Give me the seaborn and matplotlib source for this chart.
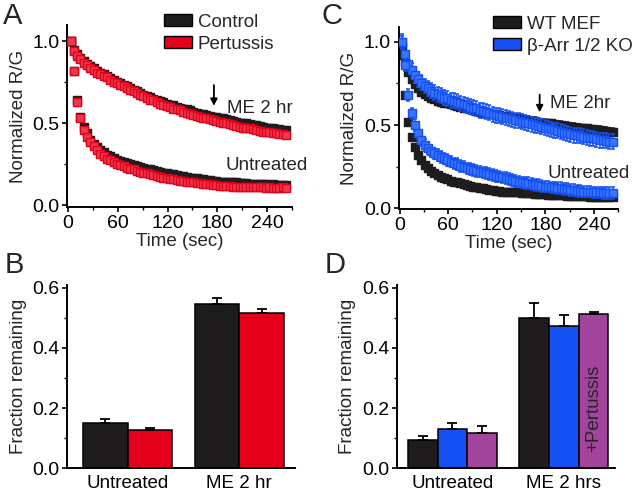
import numpy as np
import pandas as pd
import matplotlib
matplotlib.use("Agg")
import matplotlib.pyplot as plt
from matplotlib.patches import Patch
from matplotlib.ticker import MultipleLocator, FormatStrFormatter
import seaborn as sns

# sample times (sec), one point every 4 s
time_s = np.arange(3, 264, 4)

# Panel A: ME 2 hr curves
a_me_control = [1.00, 0.95, 0.92, 0.90, 0.88, 0.865, 0.85, 0.835, 0.82, 0.81,
                0.80, 0.79, 0.775, 0.765, 0.755, 0.745, 0.735, 0.725, 0.715, 0.705,
                0.695, 0.685, 0.675, 0.67, 0.66, 0.65, 0.645, 0.635, 0.63, 0.62,
                0.615, 0.61, 0.60, 0.595, 0.59, 0.585, 0.58, 0.57, 0.565, 0.56,
                0.555, 0.55, 0.545, 0.54, 0.54, 0.535, 0.53, 0.525, 0.52, 0.515,
                0.51, 0.505, 0.50, 0.50, 0.495, 0.49, 0.49, 0.485, 0.48, 0.475,
                0.475, 0.47, 0.465, 0.465, 0.46, 0.46]
a_me_pertussis = [1.00, 0.94, 0.91, 0.89, 0.87, 0.855, 0.84, 0.825, 0.81, 0.80,
                  0.79, 0.78, 0.765, 0.755, 0.745, 0.735, 0.725, 0.715, 0.705, 0.695,
                  0.685, 0.675, 0.665, 0.655, 0.645, 0.64, 0.63, 0.62, 0.615, 0.605,
                  0.60, 0.59, 0.585, 0.58, 0.57, 0.565, 0.56, 0.55, 0.545, 0.54,
                  0.535, 0.53, 0.525, 0.52, 0.515, 0.51, 0.505, 0.50, 0.495, 0.49,
                  0.485, 0.48, 0.475, 0.47, 0.47, 0.465, 0.46, 0.455, 0.45, 0.45,
                  0.445, 0.44, 0.44, 0.435, 0.435, 0.43]
# Panel A: untreated curves
a_un_control = [1.00, 0.82, 0.64, 0.54, 0.48, 0.44, 0.40, 0.375, 0.355, 0.34,
                0.325, 0.31, 0.30, 0.29, 0.28, 0.27, 0.265, 0.26, 0.25, 0.245,
                0.24, 0.235, 0.23, 0.225, 0.22, 0.215, 0.21, 0.205, 0.20, 0.195,
                0.19, 0.19, 0.185, 0.18, 0.18, 0.175, 0.17, 0.17, 0.165, 0.16,
                0.16, 0.155, 0.155, 0.15, 0.15, 0.145, 0.145, 0.145, 0.14, 0.14,
                0.14, 0.135, 0.135, 0.135, 0.13, 0.13, 0.13, 0.13, 0.13, 0.13,
                0.125, 0.13, 0.125, 0.125, 0.125, 0.125]
a_un_pertussis = [1.00, 0.82, 0.63, 0.53, 0.46, 0.42, 0.385, 0.36, 0.335, 0.315,
                  0.30, 0.285, 0.275, 0.265, 0.255, 0.245, 0.24, 0.23, 0.225, 0.22,
                  0.21, 0.205, 0.20, 0.195, 0.19, 0.185, 0.18, 0.175, 0.17, 0.165,
                  0.16, 0.16, 0.155, 0.15, 0.15, 0.145, 0.14, 0.14, 0.135, 0.135,
                  0.13, 0.13, 0.13, 0.125, 0.125, 0.12, 0.12, 0.12, 0.12, 0.115,
                  0.115, 0.115, 0.115, 0.11, 0.11, 0.11, 0.11, 0.11, 0.11, 0.105,
                  0.11, 0.105, 0.105, 0.105, 0.11, 0.105]

# Panel C: ME 2hr curves
c_me_wt = [0.97, 0.88, 0.82, 0.775, 0.745, 0.72, 0.70, 0.685, 0.675, 0.665,
           0.655, 0.645, 0.64, 0.635, 0.63, 0.625, 0.62, 0.615, 0.61, 0.605,
           0.60, 0.595, 0.59, 0.585, 0.58, 0.575, 0.575, 0.57, 0.565, 0.56,
           0.56, 0.555, 0.55, 0.55, 0.545, 0.54, 0.54, 0.535, 0.53, 0.53,
           0.525, 0.525, 0.52, 0.515, 0.515, 0.51, 0.51, 0.505, 0.50, 0.50,
           0.495, 0.495, 0.49, 0.49, 0.485, 0.485, 0.48, 0.48, 0.475, 0.475,
           0.47, 0.47, 0.465, 0.465, 0.46, 0.46]
c_me_ko = [1.00, 0.93, 0.87, 0.83, 0.80, 0.775, 0.755, 0.735, 0.72, 0.705,
           0.695, 0.685, 0.675, 0.665, 0.66, 0.65, 0.645, 0.64, 0.63, 0.625,
           0.62, 0.61, 0.605, 0.60, 0.59, 0.585, 0.58, 0.575, 0.565, 0.56,
           0.555, 0.55, 0.545, 0.54, 0.535, 0.53, 0.525, 0.52, 0.515, 0.51,
           0.505, 0.50, 0.495, 0.49, 0.485, 0.48, 0.475, 0.47, 0.465, 0.46,
           0.455, 0.45, 0.445, 0.44, 0.44, 0.435, 0.43, 0.425, 0.42, 0.42,
           0.415, 0.41, 0.41, 0.405, 0.40, 0.40]
# Panel C: untreated curves
c_un_wt = [0.92, 0.68, 0.52, 0.43, 0.37, 0.32, 0.29, 0.26, 0.24, 0.225,
           0.21, 0.20, 0.19, 0.18, 0.175, 0.165, 0.16, 0.155, 0.15, 0.145,
           0.14, 0.135, 0.13, 0.125, 0.12, 0.12, 0.115, 0.11, 0.11, 0.105,
           0.105, 0.10, 0.10, 0.10, 0.095, 0.095, 0.095, 0.09, 0.09, 0.09,
           0.09, 0.085, 0.085, 0.085, 0.085, 0.08, 0.08, 0.08, 0.08, 0.08,
           0.08, 0.075, 0.075, 0.075, 0.075, 0.075, 0.075, 0.075, 0.07, 0.07,
           0.07, 0.07, 0.07, 0.07, 0.07, 0.07]
c_un_ko = [1.00, 0.86, 0.68, 0.57, 0.50, 0.45, 0.41, 0.38, 0.36, 0.345,
           0.33, 0.32, 0.31, 0.30, 0.29, 0.28, 0.27, 0.265, 0.255, 0.25,
           0.24, 0.235, 0.23, 0.225, 0.22, 0.215, 0.21, 0.205, 0.20, 0.195,
           0.19, 0.185, 0.18, 0.175, 0.17, 0.165, 0.16, 0.155, 0.15, 0.15,
           0.145, 0.14, 0.14, 0.135, 0.13, 0.13, 0.125, 0.125, 0.12, 0.12,
           0.115, 0.115, 0.11, 0.11, 0.105, 0.105, 0.10, 0.10, 0.10, 0.095,
           0.095, 0.095, 0.09, 0.09, 0.09, 0.09]

# typical SEM of each curve
sem_a_control = 0.015
sem_a_pertussis = 0.013
sem_c_wt_me = 0.022
sem_c_wt_un = 0.01
sem_c_ko_me = 0.045
sem_c_ko_un = 0.035

# Panel B bars
b_conditions = ["Untreated", "ME 2 hr"]
b_groups = ["Control", "Pertussis"]
b_values = [[0.151, 0.127], [0.546, 0.518]]
b_errors = [[0.012, 0.005], [0.022, 0.011]]

# Panel D bars
d_conditions = ["Untreated", "ME 2 hrs"]
d_groups = ["WT MEF", "KO", "+Pertussis"]
d_values = [[0.093, 0.130, 0.116], [0.501, 0.473, 0.512]]
d_errors = [[0.014, 0.021, 0.025], [0.050, 0.037, 0.009]]

BLACK = "#1e1c1d"
RED = "#e2001a"
BLUE = "#1450f2"
PURPLE = "#a3449c"

sns.set_theme(style="ticks")
plt.rcParams["font.family"] = ["Liberation Sans", "DejaVu Sans"]
plt.rcParams["axes.linewidth"] = 1.4
plt.rcParams["xtick.major.width"] = 1.2
plt.rcParams["ytick.major.width"] = 1.2
plt.rcParams["xtick.minor.width"] = 1.0
plt.rcParams["ytick.minor.width"] = 1.0
plt.rcParams["xtick.major.size"] = 3.5
plt.rcParams["ytick.major.size"] = 3.5
plt.rcParams["xtick.minor.size"] = 2.5
plt.rcParams["ytick.minor.size"] = 2.5
plt.rcParams["axes.edgecolor"] = "black"
plt.rcParams["xtick.color"] = "black"
plt.rcParams["ytick.color"] = "black"

TICK_FS = 14
LAB_FS = 13.5

fig = plt.figure(figsize=(6.4, 4.99), dpi=100)
axA = fig.add_axes([0.105, 0.585, 0.351, 0.365])
axC = fig.add_axes([0.623, 0.581, 0.343, 0.365])
axB = fig.add_axes([0.105, 0.062, 0.356, 0.367])
axD = fig.add_axes([0.620, 0.062, 0.341, 0.367])


def draw_curve(ax, y, err, color, face, z):
    ax.errorbar(time_s, y, yerr=err, fmt="none", ecolor=color, elinewidth=1.1,
                capsize=1.6, capthick=1.1, zorder=z)
    sns.scatterplot(x=time_s, y=y, marker="s", s=26, color=face, edgecolor=color,
                    linewidth=1.0, ax=ax, zorder=z + 0.5, legend=False)


def style_time_axis(ax):
    sns.despine(ax=ax)
    ax.set_xlim(-1, 270)
    ax.xaxis.set_major_locator(MultipleLocator(60))
    ax.xaxis.set_minor_locator(MultipleLocator(30))
    ax.yaxis.set_major_locator(MultipleLocator(0.5))
    ax.yaxis.set_minor_locator(MultipleLocator(0.25))
    ax.yaxis.set_major_formatter(FormatStrFormatter("%.1f"))
    ax.tick_params(labelsize=TICK_FS, pad=2)
    ax.set_xlabel("Time (sec)", fontsize=LAB_FS, labelpad=1)
    ax.set_ylabel("Normalized R/G", fontsize=LAB_FS, labelpad=4)


# Panel A
draw_curve(axA, a_me_control, sem_a_control, BLACK, BLACK, 2)
draw_curve(axA, a_un_control, sem_a_control, BLACK, BLACK, 2)
draw_curve(axA, a_me_pertussis, sem_a_pertussis, RED, "#ea3a4c", 3)
draw_curve(axA, a_un_pertussis, sem_a_pertussis, RED, "#ea3a4c", 3)
style_time_axis(axA)
axA.set_ylim(-0.01, 1.1)
axA.annotate("", xy=(176, 0.59), xytext=(176, 0.75),
             arrowprops=dict(arrowstyle="-|>", color="black", lw=1.3, mutation_scale=10))
axA.text(192, 0.59, "ME 2 hr", fontsize=LAB_FS, va="center", ha="left")
axA.text(190, 0.245, "Untreated", fontsize=LAB_FS, va="center", ha="left", clip_on=False)
axA.legend(handles=[Patch(facecolor=BLACK, edgecolor="black", label="Control"),
                    Patch(facecolor=RED, edgecolor="black", label="Pertussis")],
           loc="upper left", bbox_to_anchor=(0.43, 1.06), frameon=False,
           fontsize=LAB_FS, handlelength=1.5, handleheight=0.6, handletextpad=0.3,
           borderpad=0, borderaxespad=0, labelspacing=0.25)

# Panel C
draw_curve(axC, c_me_wt, sem_c_wt_me, BLACK, BLACK, 2)
draw_curve(axC, c_un_wt, sem_c_wt_un, BLACK, BLACK, 2)
draw_curve(axC, c_me_ko, sem_c_ko_me, BLUE, "#3a74ff", 3)
draw_curve(axC, c_un_ko, sem_c_ko_un, BLUE, "#3a74ff", 3)
style_time_axis(axC)
axC.set_ylim(-0.005, 1.09)
axC.annotate("", xy=(173, 0.56), xytext=(173, 0.70),
             arrowprops=dict(arrowstyle="-|>", color="black", lw=1.3, mutation_scale=10))
axC.text(186, 0.63, "ME 2hr", fontsize=LAB_FS, va="center", ha="left")
axC.text(183, 0.21, "Untreated", fontsize=LAB_FS, va="center", ha="left", clip_on=False)
axC.legend(handles=[Patch(facecolor=BLACK, edgecolor="black", label="WT MEF"),
                    Patch(facecolor=BLUE, edgecolor="black", label="β-Arr 1/2 KO")],
           loc="upper left", bbox_to_anchor=(0.43, 1.06), frameon=False,
           fontsize=LAB_FS, handlelength=1.5, handleheight=0.6, handletextpad=0.3,
           borderpad=0, borderaxespad=0, labelspacing=0.25)


def bar_panel(ax, conditions, groups, values, errors, colors):
    rows = []
    for ci, cond in enumerate(conditions):
        for gi, grp in enumerate(groups):
            rows.append({"cond": cond, "group": grp, "frac": values[ci][gi],
                         "err": errors[ci][gi]})
    df = pd.DataFrame(rows)
    sns.barplot(data=df, x="cond", y="frac", hue="group", palette=colors,
                edgecolor="black", linewidth=1.1, errorbar=None, legend=False,
                width=0.8, saturation=1, ax=ax)
    bars = sorted(ax.patches, key=lambda p: p.get_x())
    xs = [p.get_x() + p.get_width() / 2 for p in bars]
    hs = [p.get_height() for p in bars]
    errs = df["err"].tolist()
    ax.errorbar(xs, hs, yerr=[np.zeros(len(errs)), errs], fmt="none",
                ecolor="black", elinewidth=1.3, capsize=3.5, capthick=1.3, zorder=1)
    sns.despine(ax=ax)
    ax.set_ylim(0, 0.61)
    ax.yaxis.set_major_locator(MultipleLocator(0.2))
    ax.yaxis.set_minor_locator(MultipleLocator(0.1))
    ax.yaxis.set_major_formatter(FormatStrFormatter("%.1f"))
    ax.tick_params(axis="y", labelsize=TICK_FS, pad=2)
    ax.tick_params(axis="x", length=0, labelsize=LAB_FS, pad=5)
    ax.set_xlabel("")
    ax.set_ylabel("Fraction remaining", fontsize=LAB_FS, labelpad=4)
    return xs


bar_panel(axB, b_conditions, b_groups, b_values, b_errors, [BLACK, RED])
axB.set_xlim(-0.54, 1.5)
xs_d = bar_panel(axD, d_conditions, d_groups, d_values, d_errors, [BLACK, BLUE, PURPLE])
axD.set_xlim(-0.5, 1.46)
axD.text(xs_d[-1], 0.20, "+Pertussis", rotation=90, fontsize=LAB_FS,
         ha="center", va="center")

for letter, x, y in [("A", 0.005, 0.995), ("C", 0.502, 0.995),
                     ("B", 0.008, 0.497), ("D", 0.508, 0.497)]:
    fig.text(x, y, letter, fontsize=21, ha="left", va="top")

fig.savefig("out.png", dpi=100)
